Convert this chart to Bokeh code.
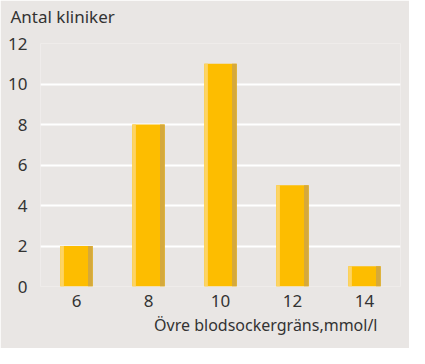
from bokeh.plotting import figure
from bokeh.models import Range1d, FixedTicker, Title, LinearAxis
from bokeh.transform import dodge
from bokeh.embed import file_html
from bokeh.resources import INLINE

levels = [6, 8, 10, 12, 14]
clinics = [2, 8, 11, 5, 1]
y_ticks = [0, 2, 4, 6, 8, 10, 12]
y_title = "Antal kliniker"
x_title = "Övre blodsockergräns,mmol/l"

BG = "#e9e6e4"
FONT = "Noto Sans"
TXT = "#333333"

p = figure(width=409, height=348, output_backend="svg", toolbar_location=None,
           x_range=Range1d(5, 15), y_range=Range1d(0, 12),
           min_border_left=40, min_border_right=9, min_border_top=43, min_border_bottom=62)
p.title_location = None
p.background_fill_color = BG
p.border_fill_color = BG
p.outline_line_color = None

# bars: main body plus light left edge and darker right edge
src = dict(x=levels, top=clinics)
p.vbar(x="x", top="top", width=0.9, fill_color="#fdbd00", line_color=None, source=src)
p.vbar(x=dodge("x", -0.4, range=None), top="top", width=0.1, fill_color="#fdd464",
       line_color=None, source=src)
p.vbar(x=dodge("x", 0.385, range=None), top="top", width=0.13, fill_color="#d5a93c",
       line_color=None, source=src)

p.xgrid.grid_line_color = None
p.ygrid.grid_line_color = "white"
p.ygrid.grid_line_width = 2
p.ygrid.ticker = FixedTicker(ticks=y_ticks)

for ax in (p.xaxis[0], p.yaxis[0]):
    ax.axis_line_color = None
    ax.major_tick_line_color = None
    ax.minor_tick_line_color = None
    ax.major_tick_out = 0
    ax.major_tick_in = 0
    ax.minor_tick_out = 0
    ax.major_label_text_font = FONT
    ax.major_label_text_font_size = "17px"
    ax.major_label_text_color = TXT

p.yaxis.ticker = FixedTicker(ticks=y_ticks)
p.yaxis.major_label_standoff = 13
p.xaxis.ticker = FixedTicker(ticks=levels)
p.xaxis.major_label_standoff = 8

# invisible spacer axis between the y title and the plot area
spacer = LinearAxis(ticker=FixedTicker(ticks=[p.x_range.start]), axis_line_color=None,
                    major_tick_line_color=None, minor_tick_line_color=None,
                    major_tick_out=16, major_tick_in=0, minor_tick_out=0,
                    major_label_standoff=0, major_label_text_font_size="1px",
                    major_label_text_color=None,
                    major_label_overrides={p.x_range.start: ""})
p.add_layout(spacer, "above")

t = Title(text=y_title, align="left", offset=-30, text_font=FONT,
          text_font_size="17px", text_font_style="normal", text_color=TXT, standoff=0)
p.add_layout(t, "above")

xl = Title(text=x_title, align="right", offset=23, text_font=FONT,
           text_font_size="16px", text_font_style="normal", text_color=TXT, standoff=4)
p.add_layout(xl, "below")

open("out.html", "w").write(file_html(p, INLINE))
